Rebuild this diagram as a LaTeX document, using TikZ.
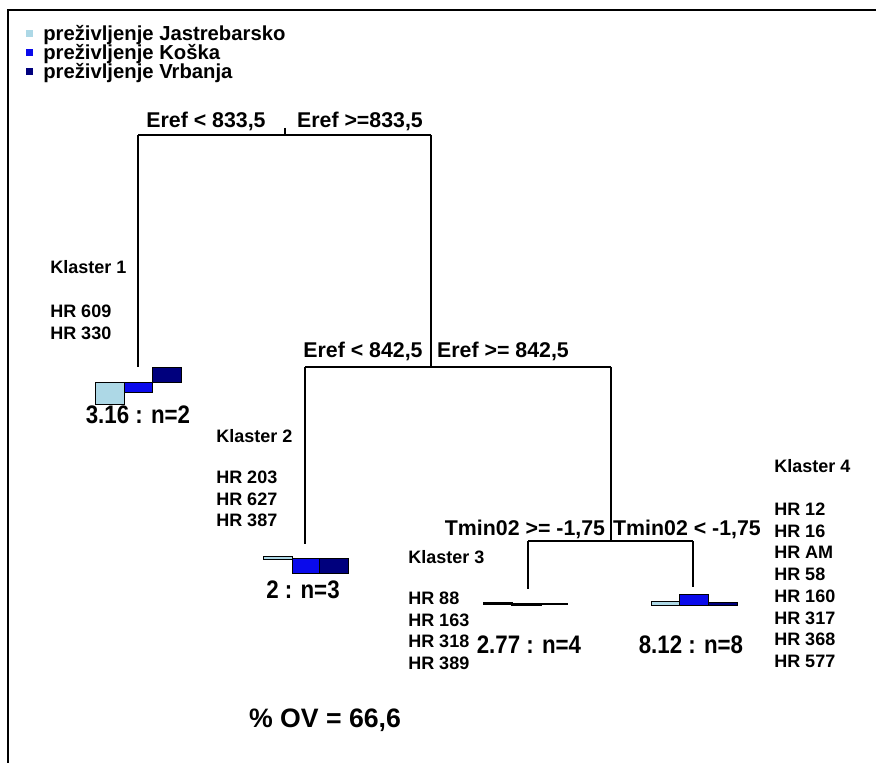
\documentclass[tikz,border=0pt]{standalone}
\usepackage{fontspec}
\setmainfont{Liberation Sans}
\newfontfamily\narrowfont{Liberation Sans}[FakeStretch=0.88]
\definecolor{cjas}{RGB}{173,216,230}
\definecolor{ckos}{RGB}{10,10,235}
\definecolor{cvrb}{RGB}{0,0,125}
\tikzset{
  edge/.style={line width=1pt},
  splitlab/.style={font=\fontsize{16}{19}\selectfont\bfseries, anchor=base, inner sep=0pt},
  kltitle/.style={font=\fontsize{13.5}{16}\selectfont\bfseries, anchor=base west, inner sep=0pt},
  hrlist/.style={font=\fontsize{13.5}{16.3}\selectfont\bfseries, anchor=north west, align=left, inner sep=0pt},
  leaflab/.style={font=\narrowfont\fontsize{19}{22}\selectfont\bfseries, anchor=base, inner sep=0pt},
  legtext/.style={font=\fontsize{15.2}{18}\selectfont\bfseries, anchor=base west, inner sep=0pt},
  bar/.style={draw=black, line width=0.6pt},
}
\begin{document}
\begin{tikzpicture}[x=0.75pt,y=-0.75pt]
\useasboundingbox (0,0) rectangle (876,763);
\fill[white] (0,0) rectangle (876,763);
% frame
\draw[line width=1.5pt] (8,763) -- (8,10) -- (876,10);

% legend
\fill[cjas] (26,30.5) rectangle (33,37.5);
\fill[ckos] (26,49.5) rectangle (33,56.5);
\fill[cvrb] (26,68.5) rectangle (33,75.5);
\node[legtext] (lg1) at (43,41) {preživljenje Jastrebarsko};
\node[legtext] (lg2) at (43,60) {preživljenje Koška};
\node[legtext] (lg3) at (43,79) {preživljenje Vrbanja};

% tree coordinates
\coordinate (root) at (285,128);
\coordinate (rootb) at (285,135);
\coordinate (s1l) at (138,135);
\coordinate (s1r) at (431,135);
\coordinate (leaf1) at (138,367);
\coordinate (n2) at (431,367);
\coordinate (s2l) at (305,367);
\coordinate (s2r) at (611,367);
\coordinate (leaf2) at (305,544);
\coordinate (n3) at (611,541);
\coordinate (s3l) at (528,541);
\coordinate (s3r) at (693,541);
\coordinate (leaf3) at (528,589);
\coordinate (leaf4) at (693,587);

\draw[edge] (root) -- (rootb);
\draw[edge] (s1l) -- (s1r);
\draw[edge] (s1l) -- (leaf1);
\draw[edge] (s1r) -- (n2);
\draw[edge] (s2l) -- (s2r);
\draw[edge] (s2l) -- (leaf2);
\draw[edge] (s2r) -- (n3);
\draw[edge] (s3l) -- (s3r);
\draw[edge] (s3l) -- (leaf3);
\draw[edge] (s3r) -- (leaf4);

% split labels
\node[splitlab] (l1a) at (206,128) {Eref < 833,5};
\node[splitlab] (l1b) at (360,128) {Eref >=833,5};
\node[splitlab] (l2a) at (363,358) {Eref < 842,5};
\node[splitlab] (l2b) at (503,358) {Eref >= 842,5};
\node[splitlab] (l3a) at (525,535) {Tmin02 >= -1,75};
\node[splitlab] (l3b) at (687,535) {Tmin02 < -1,75};

% leaf 1 bars
\filldraw[bar, fill=cjas] (95,382) rectangle (124,404);
\filldraw[bar, fill=ckos] (124,382) rectangle (152,392);
\filldraw[bar, fill=cvrb] (152,367) rectangle (181,382);
% leaf 2 bars
\filldraw[bar, fill=cjas] (263,556) rectangle (292,559);
\filldraw[bar, fill=ckos] (292,558) rectangle (319,573);
\filldraw[bar, fill=cvrb] (319,558) rectangle (348,573);
% leaf 3 bars
\filldraw[bar, fill=cjas, line width=1pt] (484,603) rectangle (512,604);
\filldraw[bar, fill=ckos, line width=1pt] (512,604) rectangle (541,605);
\draw[line width=0.8pt] (541,604) -- (568,604);
% leaf 4 bars
\filldraw[bar, fill=cjas] (651,601) rectangle (679,605);
\filldraw[bar, fill=ckos] (679,594) rectangle (708,605);
\filldraw[bar, fill=cvrb] (708,602.5) rectangle (737,605);

% leaf labels
\node[leaflab] (t1) at (138,424) {3.16 : n=2};
\node[leaflab] (t2) at (303,598) {2 : n=3};
\node[leaflab] (t3) at (529,653) {2.77 : n=4};
\node[leaflab] (t4) at (691,653) {8.12 : n=8};

% clusters
\node[kltitle] (k1) at (50,274) {Klaster 1};
\node[hrlist] (h1) at (50,304.5) {HR 609\\HR 330};
\node[kltitle] (k2) at (216,443) {Klaster 2};
\node[hrlist] (h2) at (216,470.5) {HR 203\\HR 627\\HR 387};
\node[kltitle] (k3) at (408,563) {Klaster 3};
\node[hrlist] (h3) at (408,591.5) {HR 88\\HR 163\\HR 318\\HR 389};
\node[kltitle] (k4) at (774,473) {Klaster 4};
\node[hrlist] (h4) at (774,502.5) {HR 12\\HR 16\\HR AM\\HR 58\\HR 160\\HR 317\\HR 368\\HR 577};

% OV
\node[font=\fontsize{20}{24}\selectfont\bfseries, anchor=base, inner sep=0pt] (ov) at (325,727) {\% OV = 66,6};
\end{tikzpicture}
\end{document}
